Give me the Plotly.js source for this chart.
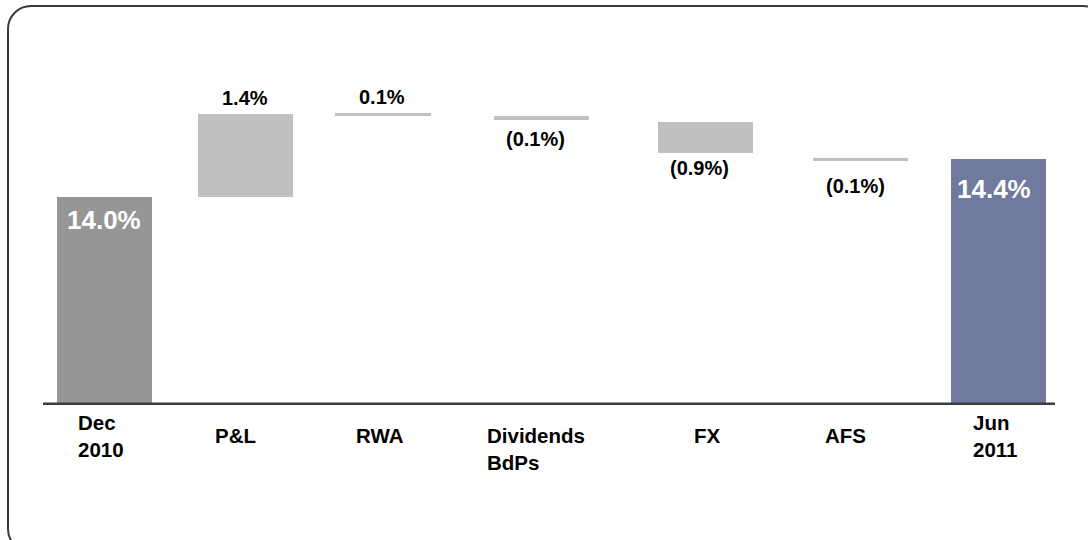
<!DOCTYPE html>
<html>
<head>
<meta charset="utf-8">
<script src="https://cdn.plot.ly/plotly-3.0.1.min.js"></script>
<style>
  html, body { margin: 0; padding: 0; background: #fff; overflow: hidden; }
  #wrap { position: relative; width: 1088px; height: 540px; overflow: hidden; }
  #chart { position: absolute; left: 0; top: 0; width: 1088px; height: 540px; }
  #frame { position: absolute; left: 7px; top: 5px; width: 1100px; height: 548px;
           border: 2.5px solid #3a3a3a; border-radius: 24px; pointer-events: none; box-sizing: border-box; }
</style>
</head>
<body>
<div id="wrap">
  <div id="chart"></div>
  <div id="frame"></div>
</div>
<script>
// ---- data ----
const categories = ["Dec<br>2010", "P&L", "RWA", "Dividends<br>BdPs", "FX", "AFS", "Jun<br>2011"];
// actual change values shown in the labels (%)
const changes = [14.0, 1.4, 0.1, -0.1, -0.9, -0.1, 14.4];
// category slot positions as drawn (slots are not evenly spaced in the source)
const slotX = [0, 0.943, 1.869, 2.930, 4.034, 5.074, 6.003];
// bar levels as drawn in the source (the source is not to scale)
const drawnLow  = [0,    14.00, 14.85, 14.81, 14.46, 14.38, 0];
const drawnHigh = [14.0, 14.87, 14.88, 14.85, 14.79, 14.41, 14.4];

// ---- styles ----
const colTotalStart = "#969696";
const colTotalEnd = "#6f7a9e";
const colStep = "#c0c0c0";
const font = "Liberation Sans, Arial, Helvetica, sans-serif";
const catLabelDx = [-4, -10, -3, -5, 2, -15, -4];   // pixel nudges of category labels
const valLabelDx = [-1, 0, -1, -6, -6, -5, -5];
const valLabelDy = [-6, 3, 3, -6, -2, -12, -13];

function fmt(v) {
  const s = Math.abs(v).toFixed(1) + "%";
  return v < 0 ? "(" + s + ")" : s;
}

const n = categories.length;
const colors = categories.map((c, i) => i === 0 ? colTotalStart : (i === n - 1 ? colTotalEnd : colStep));

const trace = {
  type: "bar",
  x: slotX,
  base: drawnLow,
  y: drawnHigh.map((h, i) => h - drawnLow[i]),
  width: 0.6376,
  marker: { color: colors, line: { width: 0 } },
  hoverinfo: "skip",
  showlegend: false
};

const baselineLevel = 11.81;
const annotations = [];
for (let i = 0; i < n; i++) {
  const isTotal = (i === 0 || i === n - 1);
  if (isTotal) {
    annotations.push({
      x: slotX[i], y: drawnHigh[i], xref: "x", yref: "y",
      text: "<b>" + fmt(changes[i]) + "</b>", showarrow: false,
      xanchor: "center", yanchor: "top", yshift: valLabelDy[i], xshift: valLabelDx[i],
      font: { family: font, size: 26, color: "#ffffff" }
    });
  } else {
    const up = changes[i] >= 0;
    annotations.push({
      x: slotX[i], y: up ? drawnHigh[i] : drawnLow[i], xref: "x", yref: "y",
      text: "<b>" + fmt(changes[i]) + "</b>", showarrow: false,
      xanchor: "center", yanchor: up ? "bottom" : "top", yshift: valLabelDy[i], xshift: valLabelDx[i],
      font: { family: font, size: 20, color: "#000000" }
    });
  }
  // category label
  annotations.push({
    x: slotX[i], y: baselineLevel, xref: "x", yref: "y",
    text: "<b>" + categories[i] + "</b>", showarrow: false, align: "left",
    xanchor: "center", yanchor: isTotal ? "middle" : "top",
    yshift: isTotal ? -31 : -17, xshift: catLabelDx[i],
    font: { family: font, size: 20.5, color: "#000000" }
  });
}

const layout = {
  width: 1088, height: 540,
  margin: { l: 43, r: 33, t: 40, b: 135, pad: 0 },
  paper_bgcolor: "#ffffff", plot_bgcolor: "#ffffff",
  xaxis: { range: [-0.4128, 6.379], visible: false, fixedrange: true },
  yaxis: { range: [baselineLevel, 15.6526], visible: false, fixedrange: true },
  bargap: 0,
  shapes: [{
    type: "line", xref: "paper", yref: "y", x0: 0, x1: 1, y0: baselineLevel, y1: baselineLevel,
    line: { color: "#3c3c3c", width: 5 }
  }],
  annotations: annotations
};

Plotly.newPlot("chart", [trace], layout, { displayModeBar: false, staticPlot: true });
</script>
</body>
</html>
